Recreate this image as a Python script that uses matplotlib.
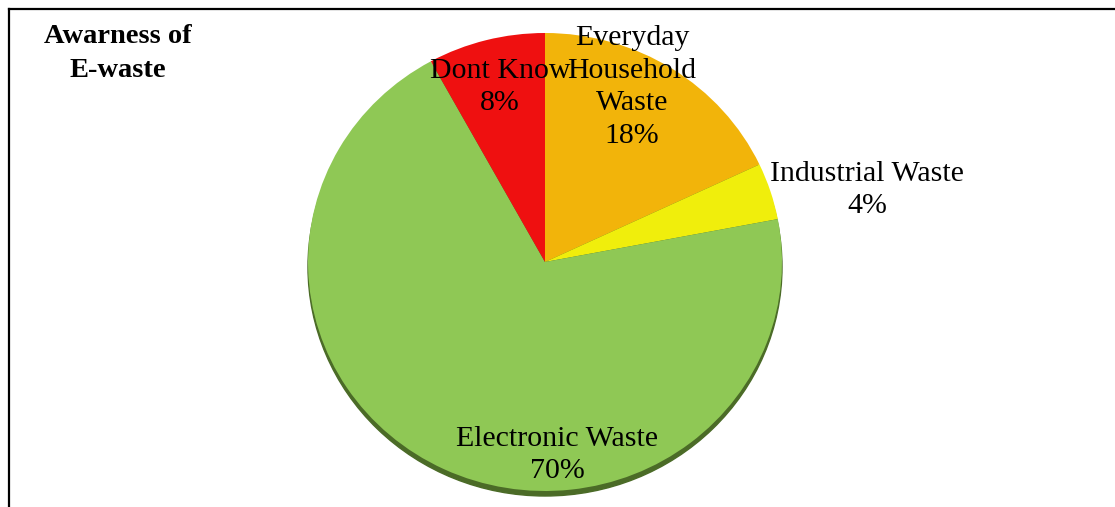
import matplotlib
matplotlib.use('Agg')
import matplotlib.pyplot as plt
from matplotlib.patches import Ellipse
from matplotlib.lines import Line2D

# Data
labels = ['Everyday\nHousehold\nWaste', 'Industrial Waste', 'Electronic Waste', 'Dont Know']
values = [18, 4, 70, 8]
colors = ['#F2B40A', '#F0EE0C', '#8FC855', '#EF1010']

plt.rcParams['font.family'] = ['Liberation Serif', 'DejaVu Serif']

W, H = 1115, 507
fig = plt.figure(figsize=(W / 100, H / 100), dpi=100)
ax = fig.add_axes([0, 0, 1, 1])

# pie geometry in pixels (slightly elliptical, like the original 3D look)
cx, cy, rx, ry = 545, 262, 237, 229

def px(x, y):
    return (x - cx) / rx, (cy - y) / ry

# dark rim under the pie
ax.add_patch(Ellipse((0, -5 / ry), 2, 2, color='#4B6B27', zorder=0))

ax.pie(values, colors=colors, startangle=90, counterclock=False,
       radius=1, center=(0, 0), frame=True,
       wedgeprops=dict(linewidth=0))
ax.set_aspect('auto')
ax.set_xlim(-cx / rx, (W - cx) / rx)
ax.set_ylim(-(H - cy) / ry, cy / ry)
ax.axis('off')

# label positions (pixels)
label_pos = [(632, 87), (867, 190), (557, 455), (500, 87)]
for lab, v, (x, y) in zip(labels, values, label_pos):
    ax.text(*px(x, y), f'{lab}\n{v}%', ha='center', va='center',
            fontsize=21.5, linespacing=1.33, color='black')

fig.text(118 / W, 1 - 53.5 / H, 'Awarness of\nE-waste', ha='center', va='center',
         fontsize=20.5, fontweight='bold', linespacing=1.43)

# frame lines
fig.add_artist(Line2D([9 / W, 9 / W], [0, 1 - 9 / H], transform=fig.transFigure,
                      color='black', lw=1.6))
fig.add_artist(Line2D([9 / W, 1], [1 - 9 / H, 1 - 9 / H], transform=fig.transFigure,
                      color='black', lw=1.6))

fig.savefig('out.png', dpi=100)
